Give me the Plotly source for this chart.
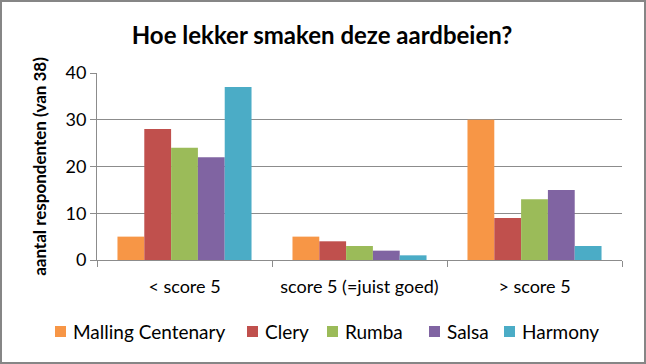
import plotly.graph_objects as go

categories = ["< score 5", "score 5 (=juist goed)", "> score 5"]
series_names = ["Malling Centenary", "Clery", "Rumba", "Salsa", "Harmony"]
malling = [5, 5, 30]
clery = [28, 4, 9]
rumba = [24, 3, 13]
salsa = [22, 2, 15]
harmony = [37, 1, 3]
colors = ["#F79646", "#C0504D", "#9BBB59", "#8064A2", "#4BACC6"]
y_ticks = [0, 10, 20, 30, 40]

W, H = 646, 364
ML, MR, MT, MB = 97, 24, 73, 104
PW, PH = W - ML - MR, H - MT - MB

def px_x(x):
    return (x - ML) / PW

def px_y(y):
    return (H - y - MB) / PH

FONT = "Lato"
fig = go.Figure()
for name, vals, col in zip(series_names, [malling, clery, rumba, salsa, harmony], colors):
    fig.add_trace(go.Bar(x=categories, y=vals, name=name, showlegend=False,
                         marker=dict(color=col, line=dict(width=0))))

grid = "#8C8C8C"
fig.update_layout(
    width=W, height=H,
    margin=dict(l=ML, r=MR, t=MT, b=MB, autoexpand=False),
    paper_bgcolor="white", plot_bgcolor="white",
    font=dict(family=FONT, color="black", size=18),
    barmode="group", bargap=0.234, bargroupgap=0,
    title=dict(text="<b>Hoe lekker smaken deze aardbeien?</b>", x=(135 + 509) / 2 / W, xanchor="center",
               y=1 - 36 / H, yanchor="middle", font=dict(size=24, family=FONT)),
    xaxis=dict(showline=True, linecolor=grid, linewidth=1, ticks="outside", tickson="boundaries",
               ticklen=6, tickcolor=grid, tickfont=dict(size=18), showgrid=False,
               ticklabelstandoff=10),
    yaxis=dict(range=[0, 40], tickvals=y_ticks, showline=True, linecolor=grid, linewidth=1,
               ticks="outside", ticklen=6, tickcolor=grid, gridcolor=grid, gridwidth=1,
               tickfont=dict(size=18), zeroline=False,
               title=dict(text="<b>aantal respondenten (van 38)</b>", font=dict(size=17), standoff=14)),
    showlegend=False,
)

# manual legend (Excel-like spacing)
legend_square_left = [55, 247, 327, 429, 504]
legend_y = 331.5
sq = 11
for name, col, lx in zip(series_names, colors, legend_square_left):
    fig.add_shape(type="rect", xref="paper", yref="paper",
                  x0=px_x(lx), x1=px_x(lx + sq), y0=px_y(legend_y + sq / 2), y1=px_y(legend_y - sq / 2),
                  fillcolor=col, line=dict(width=0))
    fig.add_annotation(text=name, xref="paper", yref="paper", x=px_x(lx + sq + 5), y=px_y(legend_y),
                       xanchor="left", yanchor="middle", showarrow=False, font=dict(size=19))

fig.add_shape(type="rect", xref="paper", yref="paper",
              x0=px_x(1), x1=px_x(W - 1), y0=px_y(H - 1), y1=px_y(1),
              line=dict(color="#868686", width=2), fillcolor="rgba(0,0,0,0)", layer="above")
fig.write_html("out.html", config={"displayModeBar": False},
               post_script="document.body.style.margin='0';document.body.style.overflow='hidden';")
